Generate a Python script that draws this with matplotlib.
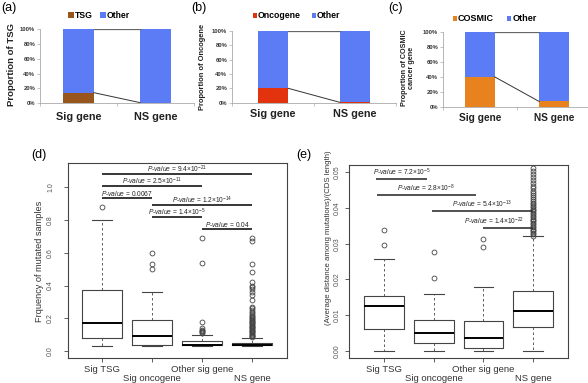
import numpy as np
import matplotlib.pyplot as plt
from matplotlib.patches import Rectangle

plt.rcParams['font.family'] = ['Liberation Sans', 'DejaVu Sans']
plt.rcParams['mathtext.fontset'] = 'custom'
plt.rcParams['mathtext.rm'] = 'Liberation Sans'
plt.rcParams['mathtext.it'] = 'Liberation Sans:italic'

W, H = 588, 383

# ---- panels a-c : proportions in percent (Sig gene, NS gene)
bar_cats = ["Sig gene", "NS gene"]
tsg_pct = [14, 0.5]
onco_pct = [20, 0.5]
cosmic_pct = [40, 7]
pct_ticks = [0, 20, 40, 60, 80, 100]

# ---- panel d : frequency of mutated samples
box_groups = ["Sig TSG", "Sig oncogene", "Other sig gene", "NS gene"]
freq_lo = [0.03, 0.03, 0.03, 0.03]
freq_q1 = [0.08, 0.04, 0.035, 0.035]
freq_med = [0.17, 0.095, 0.04, 0.04]
freq_q3 = [0.37, 0.19, 0.06, 0.05]
freq_hi = [0.80, 0.36, 0.10, 0.08]
freq_out = [
    [0.88],
    [0.50, 0.53, 0.60],
    [0.11, 0.115, 0.12, 0.125, 0.13, 0.14, 0.18, 0.54, 0.69],
    [0.085, 0.09, 0.095, 0.10, 0.105, 0.11, 0.115, 0.12, 0.125, 0.13,
     0.135, 0.14, 0.145, 0.15, 0.155, 0.16, 0.165, 0.17, 0.175, 0.18,
     0.185, 0.19, 0.195, 0.20, 0.21, 0.215, 0.22, 0.23, 0.24, 0.25,
     0.26, 0.27, 0.31, 0.34, 0.36, 0.38, 0.39, 0.40, 0.42, 0.48,
     0.53, 0.67, 0.69],
]
pd_text = ["9.4×10$^{-21}$", "2.5×10$^{-11}$", "0.0067",
           "1.2×10$^{-14}$", "1.4×10$^{-5}$", "0.04"]
pd_x0 = [1, 1, 1, 2, 2, 3]
pd_x1 = [4, 3, 2, 4, 3, 4]
pd_y = [1.08, 1.008, 0.933, 0.892, 0.818, 0.744]

# ---- panel e : average distance among mutations / CDS length
dist_lo = [0.0, 0.0, 0.0, 0.0]
dist_q1 = [0.0062, 0.0022, 0.0007, 0.0068]
dist_med = [0.0125, 0.0051, 0.0036, 0.0112]
dist_q3 = [0.0153, 0.0085, 0.0083, 0.0168]
dist_hi = [0.0258, 0.0159, 0.0179, 0.0320]
dist_out = [
    [0.0297, 0.0339],
    [0.0204, 0.0277],
    [0.0290, 0.0313],
    [0.0322, 0.0326, 0.0330, 0.0334, 0.0338, 0.0342, 0.0346, 0.0350,
     0.0354, 0.0358, 0.0362, 0.0366, 0.0370, 0.0374, 0.0378, 0.0382,
     0.0386, 0.0390, 0.0394, 0.0398, 0.0402, 0.0406, 0.0410, 0.0415,
     0.0420, 0.0425, 0.0430, 0.0436, 0.0442, 0.0448, 0.0455, 0.0462,
     0.0470, 0.0478, 0.0486, 0.0494, 0.0502, 0.0512],
]
pe_text = ["7.2×10$^{-5}$", "2.8×10$^{-8}$", "5.4×10$^{-13}$", "1.4×10$^{-22}$"]
pe_x0 = [0.84, 0.85, 1.97, 3.0]
pe_x1 = [1.86, 2.85, 3.99, 3.99]
pe_tx = [1.35, 1.85, 2.98, 3.21]
pe_y = [0.048, 0.0437, 0.039, 0.0343]

blue = "#5b7cf4"
brown = "#98561c"
red = "#e2320e"
orange = "#e8821f"

fig = plt.figure(figsize=(W / 100, H / 100), dpi=100)


def add_ax(l, t, r, b):
    return fig.add_axes([l / W, 1 - b / H, (r - l) / W, (b - t) / H])


def ftext(x, y, s, **kw):
    return fig.text(x / W, 1 - y / H, s, **kw)


def fbox(x, y, w, h, c):
    fig.patches.append(Rectangle((x / W, 1 - (y + h) / H), w / W, h / H,
                                 transform=fig.transFigure, color=c, lw=0))


def prop_panel(box, pct, col, bw, lab_y, lab_fs):
    l, t, r, b = box
    ax = add_ax(l, t, r, b)
    x = np.arange(len(bar_cats))
    other = [100 - p for p in pct]
    ax.bar(x, pct, bw, color=col, lw=0)
    ax.bar(x, other, bw, bottom=pct, color=blue, lw=0)
    ax.plot([x[0] + bw / 2, x[1] - bw / 2], [pct[0], pct[1]], color='#333', lw=0.7)
    ax.plot([x[0] + bw / 2, x[1] - bw / 2], [100, 100], color='#666', lw=0.9)
    ax.set_xlim(-0.5, 1.5)
    ax.set_ylim(0, 100)
    for s in ['top', 'right']:
        ax.spines[s].set_visible(False)
    for s in ['left', 'bottom']:
        ax.spines[s].set_color('#aaa')
        ax.spines[s].set_linewidth(0.6)
    ax.set_yticks(pct_ticks)
    ax.set_yticklabels([f"{v}%" for v in pct_ticks], fontsize=4.2, fontweight='bold', color='#333')
    ax.set_xticks([-0.5, 0.5, 1.5])
    ax.set_xticklabels([])
    ax.tick_params(length=2, width=0.5, color='#aaa', pad=1.5)
    ax.patch.set_alpha(0)
    for i, c in enumerate(bar_cats):
        ftext(l + (i + 0.5) * (r - l) / 2, lab_y, c, fontsize=lab_fs, fontweight='bold',
              ha='center', va='center', color='#222')
    return ax


# (a)
ftext(1, 8, "(a)", fontsize=9, va='center')
prop_panel((40, 29.3, 194, 103), tsg_pct, brown, 0.4, 117, 7.8)
ftext(12, 65, "Proportion of TSG", fontsize=6.8, fontweight='bold', rotation=90,
      ha='center', va='center', color='#222')
fbox(68, 12, 6, 6, brown)
ftext(75, 15, "TSG", fontsize=6.2, fontweight='bold', va='center')
fbox(100, 12, 6, 6, blue)
ftext(107, 15, "Other", fontsize=6.2, fontweight='bold', va='center')

# (b)
ftext(191, 8, "(b)", fontsize=9, va='center')
prop_panel((232, 30.7, 396, 102.7), onco_pct, red, 0.37, 114, 7.8)
ftext(202, 67, "Proportion of Oncogene", fontsize=5.4, fontweight='bold', rotation=90,
      ha='center', va='center', color='#222')
fbox(252.5, 13.5, 4, 4, red)
ftext(258, 15.5, "Oncogene", fontsize=6.3, fontweight='bold', va='center')
fbox(311.5, 13.5, 4, 4, blue)
ftext(317, 15.5, "Other", fontsize=6.3, fontweight='bold', va='center')

# (c)
ftext(388, 8, "(c)", fontsize=9, va='center')
prop_panel((443, 32.3, 591, 106.7), cosmic_pct, orange, 0.4, 118, 7.3)
ftext(408, 68, "Proportion of COSMIC\ncancer gene", fontsize=5.2, fontweight='bold',
      rotation=90, ha='center', va='center', color='#222', linespacing=1.1)
fbox(453, 16.5, 4, 4, orange)
ftext(458, 18.5, "COSMIC", fontsize=6.5, fontweight='bold', va='center')
fbox(507, 16.5, 4, 4, blue)
ftext(513, 18.5, "Other", fontsize=6.5, fontweight='bold', va='center')


def box_panel(box, lo, q1, med, q3, hi, out, xlim, ylim, yticks, yfmt, tick_pad):
    l, t, r, b = box
    ax = add_ax(l, t, r, b)
    stats = [dict(whislo=lo[i], q1=q1[i], med=med[i], q3=q3[i], whishi=hi[i],
                  fliers=out[i]) for i in range(len(box_groups))]
    pos = np.arange(1, len(box_groups) + 1)
    ax.bxp(stats, positions=pos, widths=0.8, capwidths=0.4,
           boxprops=dict(color='#444', lw=0.8),
           medianprops=dict(color='black', lw=1.4),
           whiskerprops=dict(color='#444', lw=0.6, linestyle=(0, (3, 3))),
           capprops=dict(color='#444', lw=0.8),
           flierprops=dict(marker='o', markersize=3.5, markerfacecolor='none',
                           markeredgecolor='#444', markeredgewidth=0.6))
    ax.set_xlim(*xlim)
    ax.set_ylim(*ylim)
    ax.set_yticks(yticks)
    ax.set_yticklabels([yfmt.format(v) for v in yticks], rotation=90, va='center',
                       fontsize=5, color='#555')
    ax.set_xticks(pos)
    ax.set_xticklabels([])
    ax.tick_params(axis='y', length=3, width=0.6, color='#444', pad=tick_pad)
    ax.tick_params(axis='x', length=3, width=0.6, color='#444')
    for s in ax.spines.values():
        s.set_color('#444')
        s.set_linewidth(0.8)
    h = b - t
    for i, g in enumerate(box_groups):
        dy = 11 if i % 2 == 0 else 20.5
        ax.text(pos[i], -dy / h, g, transform=ax.get_xaxis_transform(), fontsize=6.8,
                ha='center', va='center', color='#333')
    return ax


# (d)
ftext(31, 155, "(d)", fontsize=9, va='center')
axd = box_panel((68, 163.3, 287, 358.3), freq_lo, freq_q1, freq_med, freq_q3, freq_hi,
                freq_out, (0.32, 4.7), (-0.044, 1.146), [0.0, 0.2, 0.4, 0.6, 0.8, 1.0],
                "{:.1f}", 7)
for s, x0, x1, y in zip(pd_text, pd_x0, pd_x1, pd_y):
    axd.plot([x0, x1], [y, y], color='black', lw=1.1, solid_capstyle='butt')
    axd.text((x0 + x1) / 2, y + 0.029, r"$\mathit{P}$-$\mathit{value}$ = " + s,
             fontsize=4.8, ha='center', va='center', color='#222')
ftext(40, 261, "Frquency of mutated samples", fontsize=6.6, rotation=90,
      ha='center', va='center', color='#333')

# (e)
ftext(296, 155, "(e)", fontsize=9, va='center')
axe = box_panel((349, 165, 568, 358), dist_lo, dist_q1, dist_med, dist_q3, dist_hi,
                dist_out, (0.296, 4.70), (-0.002, 0.052),
                [0.0, 0.01, 0.02, 0.03, 0.04, 0.05], "{:.2f}", 3)
for s, x0, x1, tx, y in zip(pe_text, pe_x0, pe_x1, pe_tx, pe_y):
    axe.plot([x0, x1], [y, y], color='#333', lw=1.2, solid_capstyle='butt')
    axe.text(tx, y + 0.0019, r"$\mathit{P}$-$\mathit{value}$ = " + s,
             fontsize=4.8, ha='center', va='center', color='#222')
ftext(329, 238, "(Average distance among mutations)/(CDS length)", fontsize=5.6,
      rotation=90, ha='center', va='center', color='#333')

fig.savefig("out.png", dpi=100)
